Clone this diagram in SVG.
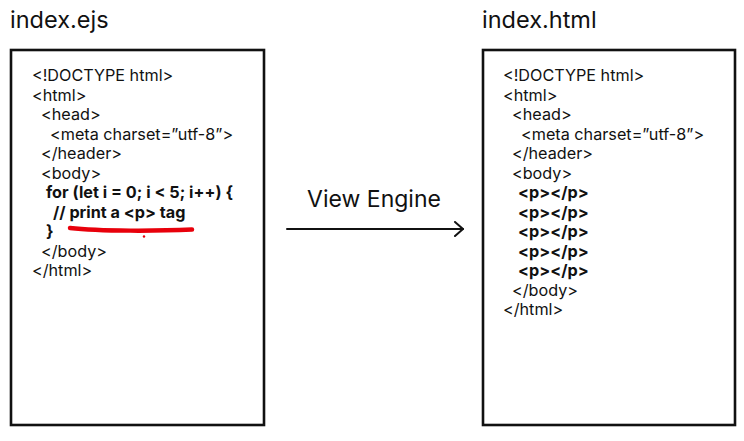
<svg xmlns="http://www.w3.org/2000/svg" width="744" height="441" viewBox="0 0 744 441">
<defs>
<style>
.title{font-family:Inter,"Liberation Sans",sans-serif;font-size:23.5px;fill:#111}
.code{font-family:Inter,"Liberation Sans",sans-serif;font-size:16.2px;fill:#111}
.b{font-weight:bold}
.box{fill:#fff;stroke:#111;stroke-width:2.6}
.conn{fill:none;stroke:#111;stroke-width:2;stroke-linecap:round;stroke-linejoin:round}
.label{font-family:Inter,"Liberation Sans",sans-serif;font-size:23px;fill:#111}
</style>
<marker id="arrow" viewBox="0 0 12 16" refX="10" refY="8" markerWidth="12" markerHeight="16" markerUnits="userSpaceOnUse" orient="auto">
<path d="M2,1 L10,8 L2,15" fill="none" stroke="#111" stroke-width="2" stroke-linecap="round" stroke-linejoin="round"/>
</marker>
</defs>
<rect width="744" height="441" fill="#fff"/>
<g id="ejs">
<text class="title" x="10" y="28">index.ejs</text>
<rect class="box" x="11" y="50" width="253" height="375"/>
<text class="code" x="32" y="81">&lt;!DOCTYPE html&gt;</text>
<text class="code" x="32" y="100.5">&lt;html&gt;</text>
<text class="code" x="41" y="120">&lt;head&gt;</text>
<text class="code" x="50" y="139.5">&lt;meta charset=”utf-8”&gt;</text>
<text class="code" x="41" y="159">&lt;/header&gt;</text>
<text class="code" x="41" y="178.5">&lt;body&gt;</text>
<text class="code b" x="46" y="198" textLength="187" lengthAdjust="spacing">for (let i = 0; i &lt; 5; i++) {</text>
<text class="code b" x="53" y="217.5">// print a &lt;p&gt; tag</text>
<text class="code b" x="46" y="237">}</text>
<text class="code" x="41" y="256.5">&lt;/body&gt;</text>
<text class="code" x="32" y="276">&lt;/html&gt;</text>
<path d="M70,228 C100,231.5 160,231 192,229.5" fill="none" stroke="#e8000b" stroke-width="4.5" stroke-linecap="round"/>
<circle cx="144" cy="236.5" r="1.2" fill="#e8000b"/>
</g>
<g id="html">
<text class="title" x="482" y="28">index.html</text>
<rect class="box" x="483" y="50" width="252" height="375"/>
<text class="code" x="503" y="81">&lt;!DOCTYPE html&gt;</text>
<text class="code" x="503" y="100.5">&lt;html&gt;</text>
<text class="code" x="512" y="120">&lt;head&gt;</text>
<text class="code" x="521" y="139.5">&lt;meta charset=”utf-8”&gt;</text>
<text class="code" x="512" y="159">&lt;/header&gt;</text>
<text class="code" x="512" y="178.5">&lt;body&gt;</text>
<text class="code b" x="518" y="198">&lt;p&gt;&lt;/p&gt;</text>
<text class="code b" x="518" y="217.5">&lt;p&gt;&lt;/p&gt;</text>
<text class="code b" x="518" y="237">&lt;p&gt;&lt;/p&gt;</text>
<text class="code b" x="518" y="256.5">&lt;p&gt;&lt;/p&gt;</text>
<text class="code b" x="518" y="276">&lt;p&gt;&lt;/p&gt;</text>
<text class="code" x="512" y="295.5">&lt;/body&gt;</text>
<text class="code" x="503" y="315">&lt;/html&gt;</text>
</g>
<g id="connectors">
<path class="conn" d="M287,229 L463,229" marker-end="url(#arrow)"/>
<text class="label" x="374" y="207" text-anchor="middle">View Engine</text>
</g>
</svg>
